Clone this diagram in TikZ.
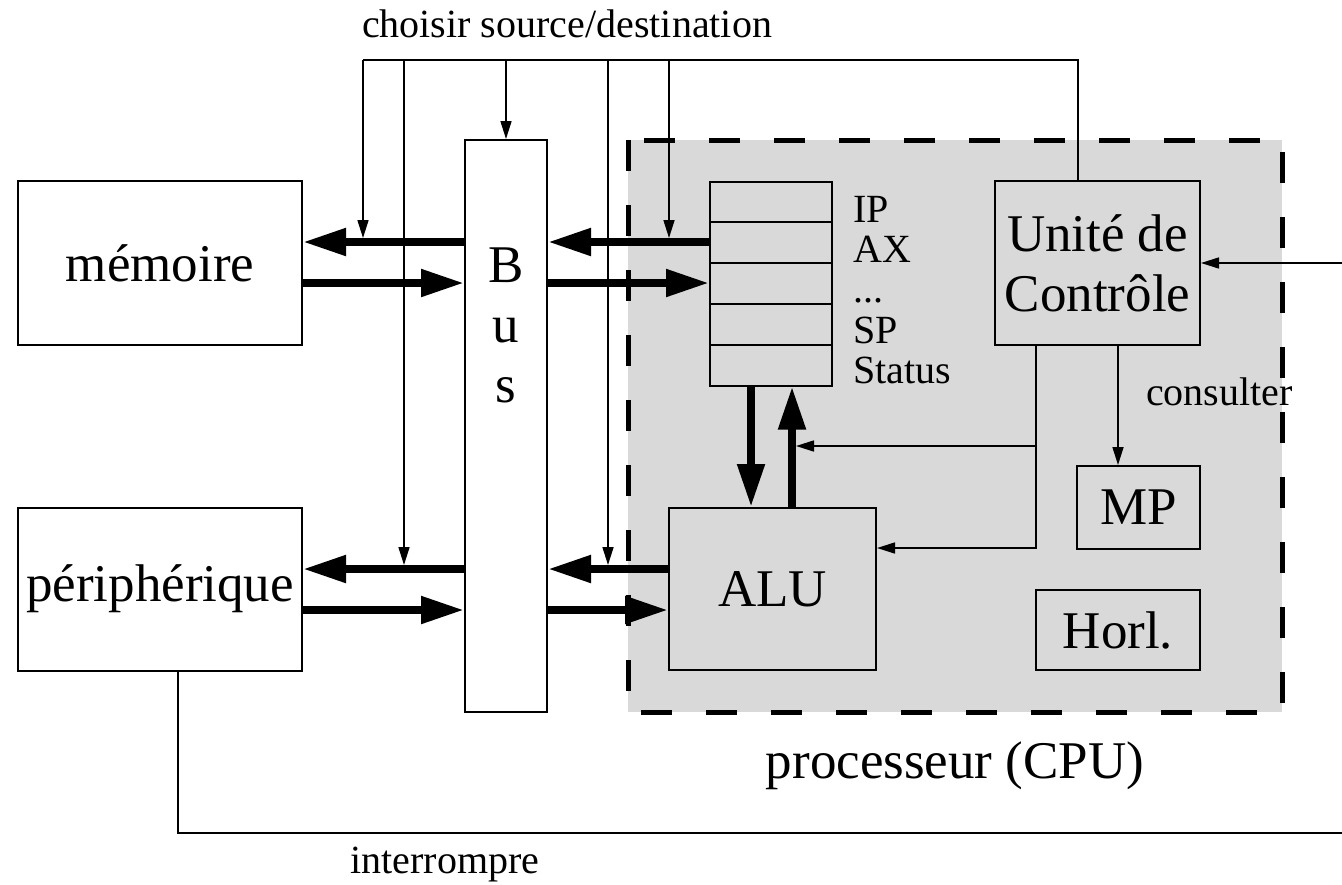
\documentclass[tikz,border=0pt]{standalone}
\usepackage{fontspec}
\setmainfont{Liberation Serif}
\usetikzlibrary{arrows.meta}
\definecolor{cpugray}{gray}{0.85}
\newcommand{\bigtxt}{\fontsize{26.5}{30}\selectfont}
\newcommand{\smalltxt}{\fontsize{20}{20.1}\selectfont}

\begin{document}
\begin{tikzpicture}[x=0.5pt,y=-0.5pt,
  blk/.style={draw,line width=1pt,inner sep=0pt,font=\bigtxt},
  data/.style={line width=4pt,-{Triangle[length=21.5pt,width=13pt]}},
  ctl/.style={line width=0.8pt,-{Triangle[length=9pt,width=5.5pt]}},
  wire/.style={line width=0.8pt}]
\useasboundingbox (0,0) rectangle (1342,884);

% processeur
\fill[cpugray] (628,140) rectangle (1282,712);
\draw[line width=2.5pt,dash pattern=on 15.5pt off 17pt] (628,140) rectangle (1282,712);
\node[font=\bigtxt,anchor=base] (cpulbl) at (955,778) {processeur (CPU)};

% blocs
\node[blk,fill=white,minimum width=142pt,minimum height=82pt] (mem) at (160,263) {mémoire};
\node[blk,fill=white,minimum width=142pt,minimum height=81.5pt] (per) at (160,589) {périphérique};
\node[blk,fill=white,minimum width=41pt,minimum height=286pt] (bus) at (506,426) {};
\foreach \c [count=\i] in {B,u,s}
  \node[font=\bigtxt,anchor=base] (bus\c) at (506,{222+60*\i}) {\c};

\node[blk,minimum width=61pt,minimum height=102pt] (regs) at (771,283.5) {};
\foreach \y in {222,263,304,345}
  \draw[line width=1pt] (regs.west |- 0,\y) -- (regs.east |- 0,\y);
\node[font=\smalltxt,align=left,anchor=north west,inner sep=0pt] (regnames) at (853,196) {IP\\AX\\...\\SP\\Status};

\node[blk,align=center,minimum width=102.5pt,minimum height=82pt] (uc) at (1097.5,263) {Unité de\\Contrôle};
\node[blk,minimum width=61.5pt,minimum height=41.5pt] (mp) at (1138.5,507.5) {MP};
\node[blk,minimum width=82pt,minimum height=40pt] (horl) at (1118,630) {Horl.};
\node[blk,minimum width=103.5pt,minimum height=81pt] (alu) at (772.5,589) {ALU};

% donnees
\draw[data] (bus.west |- 0,242) -- (mem.east |- 0,242);
\draw[data] (mem.east |- 0,283) -- (bus.west |- 0,283);
\draw[data] (regs.west |- 0,242) -- (bus.east |- 0,242);
\draw[data] (bus.east |- 0,283) -- (regs.west |- 0,283);
\draw[data] (bus.west |- 0,569) -- (per.east |- 0,569);
\draw[data] (per.east |- 0,610) -- (bus.west |- 0,610);
\draw[data] (alu.west |- 0,569) -- (bus.east |- 0,569);
\draw[data] (bus.east |- 0,610) -- (alu.west |- 0,610);
\draw[data] (regs.south -| 751,0) -- (alu.north -| 751,0);
\draw[data] (alu.north -| 792,0) -- (regs.south -| 792,0);

% controle
\draw[wire] ([xshift=-9.75pt]uc.north) |- (363,60);
\foreach \x/\y in {363/238,404/565,608/565,669/238}
  \draw[ctl] (\x,60) -- (\x,\y);
\draw[ctl] (506,60) -- (bus.north);
\draw[ctl] (1342,263) -- (uc.east);
\draw[ctl] (uc.south -| 1036,0) |- (alu.east |- 0,548);
\draw[ctl] (1036,446) -- (796,446);
\draw[ctl] (uc.south -| 1118,0) -- (mp.north -| 1118,0);
\node[font=\smalltxt,anchor=base west] (consult) at (1139,405) {consulter};
\draw[wire] (per.south -| 178,0) |- (1342,833);

\node[font=\smalltxt,anchor=base] (choose) at (567,37) {choisir source/destination};
\node[font=\smalltxt,anchor=base] (irq) at (445,873) {interrompre};
\end{tikzpicture}
\end{document}
